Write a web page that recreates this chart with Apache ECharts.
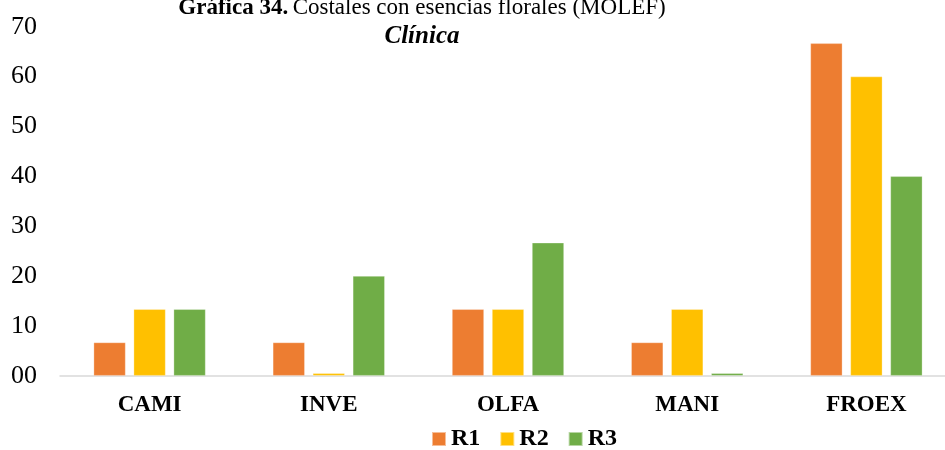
<!DOCTYPE html>
<html>
<head>
<meta charset="utf-8">
<script src="https://cdn.jsdelivr.net/npm/echarts@6/dist/echarts.min.js"></script>
<style>
  html, body { margin: 0; padding: 0; background: #fff; }
  #chart { width: 945px; height: 450px; }
</style>
</head>
<body>
<div id="chart"></div>
<script>
// Categories and series values (percent)
const categories = ['CAMI', 'INVE', 'OLFA', 'MANI', 'FROEX'];
const seriesNames = ['R1', 'R2', 'R3'];
const r1 = [6.67, 6.67, 13.33, 6.67, 66.67];
const r2 = [13.33, 0.5, 13.33, 13.33, 60];
const r3 = [13.33, 20, 26.67, 0.5, 40];
const yTickLabels = ['00', '10', '20', '30', '40', '50', '60', '70'];
const colors = ['#ED7D31', '#FFC000', '#70AD47'];

const serif = '"Liberation Serif", "Times New Roman", serif';
const chart = echarts.init(document.getElementById('chart'));

const values = [r1, r2, r3];
chart.setOption({
  animation: false,
  textStyle: { fontFamily: serif },
  title: {
    left: 417,
    textAlign: 'center',
    top: -11,
    text: '{b|Gráfica 34.} {n|Costales con esencias florales (MOLEF)}\n{i|Clínica}',
    textStyle: {
      fontFamily: serif,
      fontWeight: 'normal',
      lineHeight: 28,
      rich: {
        b: { fontFamily: serif, fontSize: 23, fontWeight: 'bold', color: '#000', lineHeight: 28 },
        n: { fontFamily: serif, fontSize: 23, fontWeight: 'normal', color: '#000', lineHeight: 28 },
        i: { fontFamily: serif, fontSize: 25, fontWeight: 'bold', fontStyle: 'italic', color: '#000', lineHeight: 29 }
      }
    }
  },
  legend: {
    left: 431,
    top: 427,
    padding: 0,
    itemWidth: 14,
    itemHeight: 14,
    itemGap: 19,
    icon: 'rect',
    textStyle: { fontFamily: serif, fontSize: 24, fontWeight: 'bold', color: '#000' },
    data: seriesNames
  },
  grid: { left: 60, width: 896, top: 26.7, bottom: 74.3, outerBoundsMode: 'none', containLabel: false },
  xAxis: {
    type: 'category',
    data: categories,
    axisLine: { lineStyle: { color: '#d9d9d9', width: 1.5 } },
    axisTick: { show: false },
    axisLabel: { fontFamily: serif, fontSize: 23, fontWeight: 'bold', color: '#000', margin: 18 }
  },
  yAxis: {
    type: 'value',
    min: 0,
    max: 70,
    interval: 10,
    splitLine: { show: false },
    axisLine: { show: false },
    axisTick: { show: false },
    axisLabel: {
      fontFamily: serif, fontSize: 26, color: '#000', margin: 23,
      formatter: v => yTickLabels[Math.round(v / 10)]
    }
  },
  series: seriesNames.map((name, i) => ({
    name,
    type: 'bar',
    data: values[i],
    barWidth: 32,
    barGap: '25%',
    itemStyle: { color: colors[i], borderColor: 'rgba(255,255,255,0.5)', borderWidth: 0.6 }
  }))
});
</script>
</body>
</html>
